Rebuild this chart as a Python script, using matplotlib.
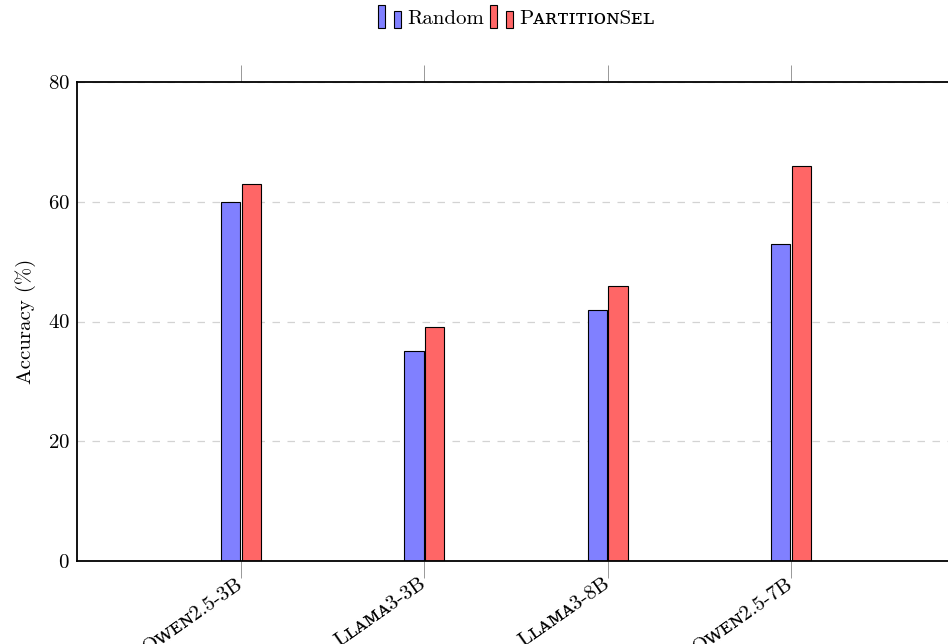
import numpy as np
import matplotlib
matplotlib.use('Agg')
import matplotlib.pyplot as plt
import matplotlib.transforms as mtrans
from matplotlib.patches import Rectangle
from matplotlib.legend_handler import HandlerBase

# data
models       = ['Qᴡᴇɴ2.5-3B', 'Lʟᴀᴍᴀ3-3B', 'Lʟᴀᴍᴀ3-8B', 'Qᴡᴇɴ2.5-7B']
random_acc   = [60, 35, 42, 53]
partsel_acc  = [63, 39, 46, 66]
series_names = ['Random', 'PᴀʀᴛɪᴛɪᴏɴSᴇʟ']
yticks       = [0, 20, 40, 60, 80]

blue = '#8080ff'
red  = '#ff6666'

plt.rcParams['font.family'] = ['cmr10', 'DejaVu Serif']
plt.rcParams['mathtext.fontset'] = 'cm'
plt.rcParams['axes.formatter.use_mathtext'] = True
plt.rcParams['font.size'] = 15


class HandlerTwoBars(HandlerBase):
    # pgfplots style ybar legend image: two small bars
    def create_artists(self, legend, orig_handle, xdescent, ydescent,
                       width, height, fontsize, trans):
        fc = orig_handle.get_facecolor()
        w = width * 0.3
        r1 = Rectangle((-xdescent, -ydescent - 0.25 * height), w, height * 1.6,
                       facecolor=fc, edgecolor='black', lw=0.8, transform=trans)
        r2 = Rectangle((-xdescent + width * 0.7, -ydescent - 0.25 * height), w, height * 1.15,
                       facecolor=fc, edgecolor='black', lw=0.8, transform=trans)
        return [r1, r2]


fig = plt.figure(figsize=(9.48, 6.44), dpi=100)
ax = fig.add_axes([77 / 948, 83 / 644, 878 / 948, 479 / 644])

x = np.arange(1, len(models) + 1)
bw = 0.105
off = 0.057
ax.bar(x - off, random_acc, bw, color=blue, edgecolor='black', lw=0.8, zorder=3)
ax.bar(x + off, partsel_acc, bw, color=red, edgecolor='black', lw=0.8, zorder=3)

ax.set_xlim(1 - 164 / 183.3, 4 + 164 / 183.3)
ax.set_ylim(0, 80)
ax.set_yticks(yticks)
ax.set_xticks(x)
ax.set_xticklabels(models, rotation=35, ha='right', va='center', rotation_mode='anchor')
shift = mtrans.ScaledTranslation(-4 / 100, 0, fig.dpi_scale_trans)
for lab in ax.get_xticklabels():
    lab.set_transform(lab.get_transform() + shift)

ax.tick_params(axis='x', top=True, bottom=True, direction='out', length=12,
               width=0.6, color='#888888', pad=3)
ax.tick_params(axis='y', length=0, pad=5)
ax.yaxis.grid(True, linestyle=(0, (6, 6)), color='#d3d3d3', lw=0.9)
ax.set_axisbelow(True)
for s in ax.spines.values():
    s.set_linewidth(1.3)
    s.set_zorder(4)

ax.set_ylabel('Accuracy (%)', labelpad=9)

handles = [Rectangle((0, 0), 1, 1, facecolor=blue), Rectangle((0, 0), 1, 1, facecolor=red)]
ax.legend(handles, series_names, loc='center', bbox_to_anchor=(0.5, 1 + 63 / 479),
          ncol=2, frameon=False, handler_map={Rectangle: HandlerTwoBars()},
          handlelength=1.1, handletextpad=0.3, columnspacing=0.3, fontsize=15)

fig.savefig('out.png', dpi=100)
